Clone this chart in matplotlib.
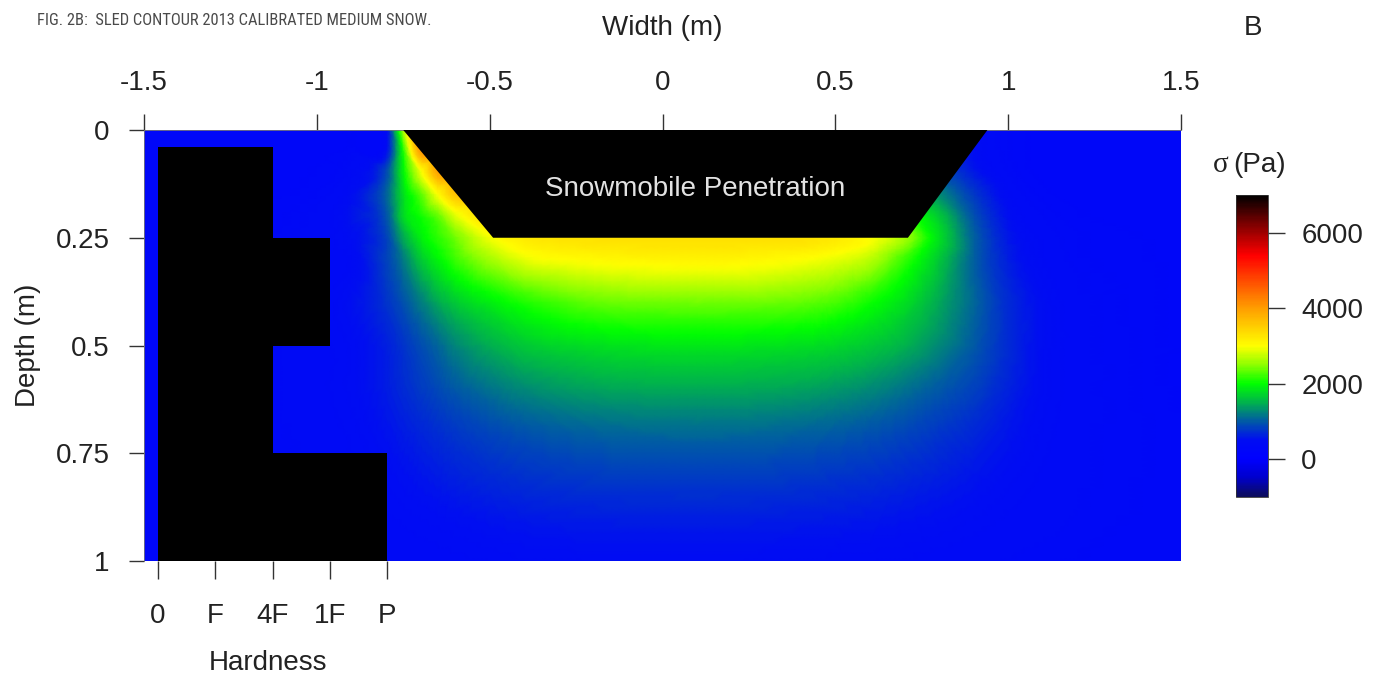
import numpy as np
import matplotlib
matplotlib.use("Agg")
import matplotlib.pyplot as plt
import matplotlib.tri as mtri
from matplotlib import font_manager
from matplotlib.font_manager import FontProperties
from matplotlib.colors import LinearSegmentedColormap

# ---------------- data ----------------
width_nodes = [-1.5, -1.2, -1.0, -0.9, -0.8, -0.75, -0.7, -0.65, -0.6, -0.5, -0.4, -0.2,
               0.0, 0.2, 0.4, 0.5, 0.6, 0.7, 0.8, 0.9, 1.0, 1.1, 1.2, 1.5]
depth_nodes = [0.0, 0.05, 0.10, 0.15, 0.20, 0.25, 0.30, 0.40, 0.50, 0.60, 0.70, 0.80, 0.90, 1.00]

# stress sigma (Pa), one row per depth node
stress_d000 = [300, 300, 300, 320, 450, 2600, 4000, 4000, 3900, 3700, 3500, 3300, 3200, 3100, 2800, 2400, 1900, 1400, 900, 500, 350, 300, 300, 300]
stress_d005 = [300, 300, 300, 340, 500, 2100, 4000, 4000, 3900, 3700, 3500, 3300, 3200, 3100, 2800, 2400, 1900, 1300, 850, 500, 350, 300, 300, 300]
stress_d010 = [300, 300, 320, 420, 900, 1950, 2900, 3900, 3900, 3700, 3500, 3300, 3200, 3100, 2800, 2400, 1900, 1400, 1000, 600, 380, 300, 300, 300]
stress_d015 = [300, 300, 350, 500, 1050, 1800, 2300, 3000, 3600, 3600, 3500, 3300, 3200, 3100, 2900, 2600, 2200, 1800, 1300, 800, 450, 330, 300, 300]
stress_d020 = [300, 300, 400, 550, 950, 1750, 2050, 2350, 2850, 3400, 3400, 3300, 3200, 3200, 3100, 2900, 2600, 2200, 1650, 950, 520, 380, 320, 300]
stress_d025 = [300, 320, 420, 500, 850, 1450, 1900, 2150, 2400, 2950, 3200, 3300, 3300, 3300, 3300, 3200, 3000, 2600, 1800, 1050, 580, 420, 350, 300]
stress_d030 = [300, 330, 420, 450, 850, 1200, 1650, 1950, 2200, 2600, 2900, 3050, 3100, 3100, 3000, 2900, 2700, 2200, 1650, 1050, 620, 440, 360, 300]
stress_d040 = [300, 350, 430, 520, 750, 950, 1200, 1450, 1650, 1900, 2100, 2350, 2400, 2400, 2350, 2250, 2050, 1800, 1450, 1080, 700, 500, 400, 300]
stress_d050 = [300, 350, 420, 480, 620, 760, 920, 1080, 1250, 1480, 1650, 1800, 1850, 1850, 1800, 1750, 1650, 1500, 1280, 1000, 700, 500, 410, 300]
stress_d060 = [300, 350, 420, 480, 600, 700, 800, 900, 1000, 1150, 1280, 1420, 1460, 1460, 1420, 1360, 1280, 1150, 1000, 850, 640, 490, 410, 300]
stress_d070 = [300, 350, 400, 450, 540, 600, 660, 720, 780, 880, 960, 1060, 1100, 1100, 1060, 1020, 960, 880, 780, 680, 560, 460, 400, 320]
stress_d080 = [300, 340, 380, 420, 480, 520, 560, 600, 640, 700, 750, 810, 830, 830, 800, 770, 740, 690, 630, 560, 490, 430, 390, 320]
stress_d090 = [300, 330, 360, 390, 430, 450, 470, 490, 510, 550, 580, 610, 620, 620, 600, 590, 570, 540, 510, 470, 430, 400, 370, 320]
stress_d100 = [300, 320, 340, 360, 380, 390, 400, 410, 420, 440, 460, 470, 470, 470, 460, 450, 440, 430, 410, 390, 370, 350, 340, 320]

# snowmobile penetration outline (width m, depth m)
track_width = [-0.75, 0.94, 0.71, -0.49]
track_depth = [0.0, 0.0, 0.25, 0.25]

# hardness profile
hardness_labels = ["0", "F", "4F", "1F", "P"]
layer_top = [0.04, 0.25, 0.50, 0.75]
layer_bottom = [0.25, 0.50, 0.75, 1.00]
layer_hardness = ["4F", "1F", "4F", "P"]

width_ticks = [-1.5, -1.0, -0.5, 0.0, 0.5, 1.0, 1.5]
width_ticklabels = ["-1.5", "-1", "-0.5", "0", "0.5", "1", "1.5"]
depth_ticks = [0.0, 0.25, 0.5, 0.75, 1.0]
depth_ticklabels = ["0", "0.25", "0.5", "0.75", "1"]
sigma_ticks = [0, 2000, 4000, 6000]
sigma_range = (-1000, 7000)

# ---------------- style ----------------
plt.rcParams['font.family'] = ['Liberation Sans', 'DejaVu Sans']
W, H = 1384, 675
fig = plt.figure(figsize=(W / 100, H / 100), dpi=100)
fig.patch.set_facecolor("white")

def fx(px):
    return px / W

def fy(py):
    return 1 - py / H

cmap = LinearSegmentedColormap.from_list("sigma", [
    (0.0000, (0.05, 0.05, 0.35)),
    (0.0625, (0.00, 0.00, 0.80)),
    (0.1250, (0.00, 0.00, 1.00)),
    (0.1875, (0.00, 0.05, 0.95)),
    (0.2500, (0.00, 0.35, 0.65)),
    (0.3125, (0.00, 0.70, 0.30)),
    (0.3750, (0.00, 1.00, 0.00)),
    (0.4375, (0.55, 1.00, 0.00)),
    (0.5000, (1.00, 1.00, 0.00)),
    (0.6250, (1.00, 0.62, 0.00)),
    (0.8000, (1.00, 0.00, 0.00)),
    (0.9125, (0.45, 0.00, 0.00)),
    (1.0000, (0.00, 0.00, 0.00)),
])

ax = fig.add_axes([fx(144), fy(561), fx(1181 - 144), (561 - 130) / H])
stress = np.array([stress_d000, stress_d005, stress_d010, stress_d015, stress_d020,
                   stress_d025, stress_d030, stress_d040, stress_d050, stress_d060,
                   stress_d070, stress_d080, stress_d090, stress_d100], dtype=float)
WX, DY = np.meshgrid(width_nodes, depth_nodes)

# smooth rendering of the sampled field with matplotlib's triangulation tools
tri = mtri.Triangulation(WX.ravel(), DY.ravel())
refiner = mtri.UniformTriRefiner(tri)
interp = mtri.CubicTriInterpolator(tri, stress.ravel(), kind="geom")
tri_f, z_f = refiner.refine_field(stress.ravel(), triinterpolator=interp, subdiv=3)
z_f = np.clip(z_f, stress.min(), stress.max())
mesh = ax.tripcolor(tri_f, z_f, shading="gouraud", cmap=cmap,
                    vmin=sigma_range[0], vmax=sigma_range[1], zorder=1, rasterized=True)
ax.set_xlim(-1.5, 1.5)
ax.set_ylim(1.0, 0.0)

# snowmobile penetration
ax.fill(track_width, track_depth, color="black", lw=0, zorder=3)
ax.text((track_width[0] + track_width[1]) / 2, 0.137, "Snowmobile Penetration",
        color="#e2e2e2", fontsize=20, ha="center", va="center", zorder=4)

# hardness scale mapping onto width axis
H0_W = -1.5 + (158 - 144) / ((1181 - 144) / 3)
HP_W = -1.5 + (387 - 144) / ((1181 - 144) / 3)
DH = (HP_W - H0_W) / (len(hardness_labels) - 1)

def h2w(h):
    return H0_W + np.asarray(h) * DH

def w2h(w):
    return (np.asarray(w) - H0_W) / DH

hidx = [hardness_labels.index(h) for h in layer_hardness]
centers = [(t + b) / 2 for t, b in zip(layer_top, layer_bottom)]
thick = [b - t for t, b in zip(layer_top, layer_bottom)]
ax.barh(centers, [h2w(i) - h2w(0) for i in hidx], height=thick, left=h2w(0),
        color="black", lw=0, zorder=3)

# axes styling
for s in ["bottom", "right"]:
    ax.spines[s].set_visible(False)
for s in ["top", "left"]:
    ax.spines[s].set_color("#777777")
    ax.spines[s].set_linewidth(0.6)

ax.xaxis.tick_top()
ax.set_xticks(width_ticks, width_ticklabels)
ax.set_yticks(depth_ticks, depth_ticklabels)
ax.tick_params(axis="x", which="both", direction="out", length=11.5, width=1.0,
               pad=13, labelsize=20, color="#333333", labelcolor="#222222")
ax.tick_params(axis="y", which="both", direction="out", length=11, width=1.0,
               pad=13.7, labelsize=20, color="#333333", labelcolor="#222222")

sec = ax.secondary_xaxis("bottom", functions=(w2h, h2w))
sec.set_xticks(range(len(hardness_labels)), hardness_labels)
sec.spines["bottom"].set_visible(False)
sec.tick_params(direction="out", length=13, width=1.0, pad=17, labelsize=20,
                color="#333333", labelcolor="#222222")

# colorbar
cax = fig.add_axes([fx(1236), fy(497), fx(32), 302 / H])
cb = fig.colorbar(mesh, cax=cax, ticks=sigma_ticks)
cb.ax.tick_params(direction="out", length=12, width=1.0, pad=12, labelsize=20,
                  color="#333333", labelcolor="#222222")
cb.outline.set_linewidth(0.6)
cb.outline.set_edgecolor("#333333")

# labels
fig.text(fx(662), fy(35), "Width (m)", fontsize=20, ha="center", va="baseline", color="#222222")
fig.text(fx(1253), fy(35), "B", fontsize=20, ha="center", va="baseline", color="#222222")
fig.text(fx(28), fy(345), "Depth (m)", fontsize=20, ha="center", va="center",
         rotation=90, color="#222222")
fig.text(fx(268), fy(670), "Hardness", fontsize=20, ha="center", va="baseline", color="#222222")
fig.text(fx(1229), fy(172), "σ", fontsize=21, ha="right", va="baseline",
         family=["Liberation Serif", "DejaVu Serif"], color="#222222")
fig.text(fx(1233), fy(172), "(Pa)", fontsize=20, ha="left", va="baseline", color="#222222")

# title in the narrowest available upright face
stretch_rank = {"ultra-condensed": 0, "extra-condensed": 1, "condensed": 2,
                "semi-condensed": 3}

def _weight_ok(wt):
    if isinstance(wt, (int, float)):
        return 350 <= wt <= 500
    return str(wt).lower() in ("normal", "regular", "book", "medium", "400", "500")

cands = []
for f in font_manager.fontManager.ttflist:
    if f.style != "normal" or not _weight_ok(f.weight):
        continue
    st = str(f.stretch)
    if st in stretch_rank:
        r = stretch_rank[st]
    elif "Narrow" in f.name or "Condensed" in f.name:
        r = 2
    else:
        continue
    pref = 0 if any(k in f.name for k in ("Liberation", "Open Sans", "Roboto", "Noto Sans", "Lato")) else 1
    cands.append((pref, r, f.name, f.fname))
cands.sort()
if cands:
    tprop = FontProperties(fname=cands[0][3], size=12)
else:
    tprop = FontProperties(family="DejaVu Sans", stretch="condensed", size=12)

title = fig.text(fx(37), fy(25), "FIG. 2B:  SLED CONTOUR 2013 CALIBRATED MEDIUM SNOW.",
                 ha="left", va="baseline", color="#4a4a4a", fontproperties=tprop)
renderer = fig.canvas.get_renderer()
tw = title.get_window_extent(renderer).width
title.set_fontsize(12 * (395 / tw))

fig.savefig("out.png", dpi=100, facecolor="white")
